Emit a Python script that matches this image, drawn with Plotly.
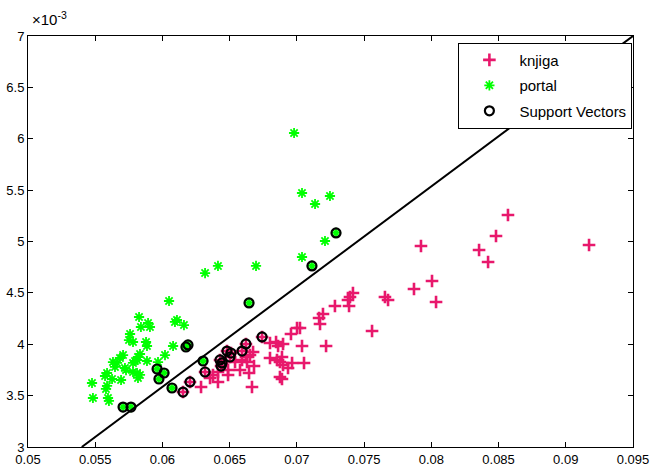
import plotly.graph_objects as go

# portal (green asterisks), y in units of 1e-3
portal_x = [0.06979, 0.07038, 0.07246, 0.07135, 0.07209, 0.07038, 0.06413, 0.06696, 0.06317,
            0.06049, 0.05826, 0.06093, 0.06108, 0.06160, 0.05840, 0.05893, 0.05907, 0.05759,
            0.05751, 0.05781, 0.05878, 0.05885, 0.06079, 0.05707, 0.05684, 0.05833, 0.05818,
            0.05811, 0.06019, 0.05632, 0.05662, 0.05647, 0.05781, 0.05796, 0.05885, 0.05967,
            0.05729, 0.05721, 0.05781, 0.05811, 0.05588, 0.05573, 0.05833, 0.05818, 0.05625,
            0.05692, 0.05476, 0.05588, 0.05580, 0.05483, 0.05595, 0.05602]
portal_y = [6.056, 5.472, 5.443, 5.365, 5.005, 4.849, 4.762, 4.762, 4.693,
            4.421, 4.265, 4.217, 4.236, 4.187, 4.168, 4.207, 4.168, 4.100,
            4.041, 4.022, 4.022, 3.983, 3.983, 3.895, 3.866, 3.905, 3.876,
            3.847, 3.895, 3.827, 3.818, 3.779, 3.818, 3.837, 3.837, 3.827,
            3.749, 3.769, 3.730, 3.720, 3.720, 3.691, 3.701, 3.672, 3.662,
            3.652, 3.623, 3.594, 3.565, 3.477, 3.477, 3.448]

# portal support vectors
sv_portal_x = [0.07291, 0.07112, 0.06644, 0.06175, 0.06190, 0.06302, 0.05960, 0.06012,
               0.05974, 0.06071, 0.05707, 0.05766]
sv_portal_y = [5.083, 4.762, 4.402, 3.973, 3.993, 3.837, 3.759, 3.720,
               3.662, 3.574, 3.389, 3.389]

# knjiga (pink crosses)
knjiga_x = [0.08570, 0.08481, 0.08355, 0.08422, 0.09173, 0.07923, 0.08005, 0.07871, 0.08035,
            0.07655, 0.07678, 0.07417, 0.07395, 0.07380, 0.07388, 0.07283, 0.07194, 0.07165,
            0.07172, 0.07559, 0.07038, 0.07217, 0.07023, 0.06956, 0.07001, 0.06800, 0.06845,
            0.06860, 0.06897, 0.06540, 0.06592, 0.06621, 0.06651, 0.06674, 0.06629, 0.06681,
            0.06577, 0.06644, 0.06488, 0.06488, 0.06413, 0.06376, 0.06354, 0.06413, 0.06287,
            0.06666, 0.06800, 0.06852, 0.06889, 0.06874, 0.06897, 0.06964, 0.06934, 0.07053,
            0.06874, 0.06889]
knjiga_y = [5.258, 5.054, 4.917, 4.800, 4.966, 4.956, 4.616, 4.538, 4.411,
            4.460, 4.431, 4.499, 4.460, 4.431, 4.372, 4.372, 4.295, 4.256,
            4.197, 4.129, 3.983, 3.983, 4.158, 4.100, 4.158, 4.012, 4.022,
            3.983, 4.003, 3.827, 3.847, 3.876, 3.895, 3.925, 3.827, 3.788,
            3.749, 3.720, 3.749, 3.701, 3.730, 3.701, 3.672, 3.633, 3.584,
            3.584, 3.866, 3.847, 3.876, 3.827, 3.798, 3.818, 3.769, 3.818,
            3.681, 3.662]

# knjiga support vectors
sv_knjiga_x = [0.06317, 0.06205, 0.06153, 0.06428, 0.06443, 0.06436, 0.06480, 0.06510,
               0.06502, 0.06592, 0.06621, 0.06741]
sv_knjiga_y = [3.730, 3.633, 3.535, 3.847, 3.818, 3.788, 3.934, 3.915,
               3.876, 3.934, 4.003, 4.071]

# separating line end points
line_x = [0.054, 0.095]
line_y = [3.0, 7.0]

x_ticks = [0.05, 0.055, 0.06, 0.065, 0.07, 0.075, 0.08, 0.085, 0.09, 0.095]
x_tick_text = ["0.05", "0.055", "0.06", "0.065", "0.07", "0.075", "0.08", "0.085", "0.09", "0.095"]
y_ticks = [3, 3.5, 4, 4.5, 5, 5.5, 6, 6.5, 7]
y_tick_text = ["3", "3.5", "4", "4.5", "5", "5.5", "6", "6.5", "7"]

PINK = "#E8186C"
GREEN = "#00FF00"

fig = go.Figure()
fig.add_trace(go.Scatter(
    x=knjiga_x + sv_knjiga_x, y=knjiga_y + sv_knjiga_y, mode="markers", name="knjiga",
    legendgroup="a",
    marker=dict(symbol="cross-thin-open", size=9, color=PINK, line=dict(width=2.6, color=PINK))))
fig.add_trace(go.Scatter(
    x=portal_x + sv_portal_x, y=portal_y + sv_portal_y, mode="markers", name="portal",
    legendgroup="b",
    marker=dict(symbol="asterisk-open", size=8.5, color=GREEN, line=dict(width=1.8, color=GREEN))))
fig.add_trace(go.Scatter(
    x=sv_portal_x + sv_knjiga_x, y=sv_portal_y + sv_knjiga_y, mode="markers", name="Support Vectors",
    legendgroup="c",
    marker=dict(symbol="circle-open", size=9, color="black", line=dict(width=2.2, color="black"))))
fig.add_trace(go.Scatter(
    x=line_x, y=line_y, mode="lines", showlegend=False,
    line=dict(color="black", width=2)))

axis_common = dict(showgrid=False, zeroline=False, showline=True, linecolor="black", linewidth=1,
                   mirror="ticks", ticks="inside", ticklen=5, tickcolor="black", automargin=False,
                   tickfont=dict(family="Liberation Sans", size=13, color="black"))
fig.update_xaxes(range=[0.05, 0.095], tickvals=x_ticks, ticktext=x_tick_text, **axis_common)
fig.update_yaxes(range=[3, 7], tickvals=y_ticks, ticktext=y_tick_text, **axis_common)

fig.add_annotation(xref="paper", yref="paper", x=0, y=1, xanchor="left", yanchor="bottom",
                   xshift=2, yshift=6, showarrow=False,
                   text="×10<sup>-3</sup>",
                   font=dict(family="Liberation Sans", size=15, color="black"))

fig.update_layout(
    width=655, height=471,
    margin=dict(l=28, r=22, t=36, b=24),
    plot_bgcolor="white", paper_bgcolor="white",
    legend=dict(x=0.999, y=0.984, xanchor="right", yanchor="top",
                bgcolor="white", bordercolor="black", borderwidth=1,
                itemwidth=50, traceorder="grouped", tracegroupgap=3,
                entrywidth=135, entrywidthmode="pixels",
                font=dict(family="Liberation Sans", size=15, color="black")),
)

fig.write_html("out.html")
